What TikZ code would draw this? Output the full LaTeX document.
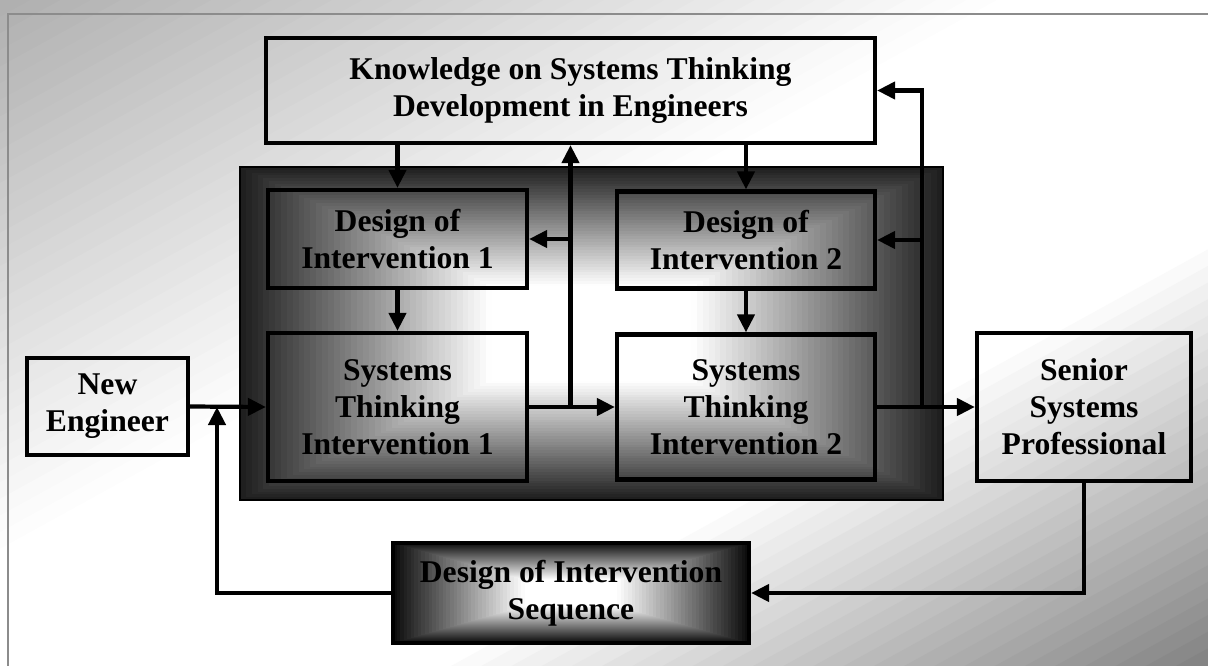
\documentclass[tikz,border=0pt]{standalone}
\usepackage{fontspec}
\setmainfont{Liberation Serif}
\usetikzlibrary{arrows.meta,positioning,calc}
\definecolor{framegray}{gray}{0.55}

\begin{document}
\begin{tikzpicture}[font=\fontsize{18}{21}\selectfont\bfseries,
  blk/.style={draw,line width=2.4pt,align=center,inner sep=0pt},
  flow/.style={line width=2.4pt,-{Triangle[length=3.6mm,width=3.4mm]}}]
\clip (0,0) rectangle (24.16,-13.3);
% page background: diagonal wash, light along the anti-diagonal
\foreach \i in {0,...,79}{
  \pgfmathsetmacro\ca{\i/40}
  \pgfmathsetmacro\cb{(\i+1.3)/40}
  \pgfmathsetmacro\g{min(1,0.69+0.38*\ca,1-0.77*(\ca-1.35))}
  \definecolor{wash}{gray}{\g}
  \fill[wash] ({(\ca+1)*24.16},13.3) -- ({(\cb+1)*24.16},13.3)
    -- ({(\cb-2)*24.16},-26.6) -- ({(\ca-2)*24.16},-26.6) -- cycle;
}
\draw[framegray,line width=1.2pt] (0.16,-13.6) |- (24.5,-0.28);
% dark panel behind the two interventions (rectangular glow)
\foreach \k in {0,...,59}{
  \pgfmathsetmacro\v{1-\k/60}
  \pgfmathsetmacro\g{min(1,0.12+1.25*(1-\v))}
  \definecolor{glow}{gray}{\g}
  \fill[glow] ({11.83-7.03*\v},{-6.67-3.33*\v}) rectangle ({11.83+7.03*\v},{-6.67+3.33*\v});
}
\draw[line width=1.5pt] (4.8,-3.34) rectangle (18.86,-10.0);
% same glow for the sequence box
\foreach \k in {0,...,49}{
  \pgfmathsetmacro\v{1-\k/50}
  \pgfmathsetmacro\g{min(1,0.05+1.3*(1-\v))}
  \definecolor{glow}{gray}{\g}
  \fill[glow] ({11.42-3.56*\v},{-11.86-1.0*\v}) rectangle ({11.42+3.56*\v},{-11.86+1.0*\v});
}
% boxes
\node[blk,minimum width=12.18cm,minimum height=2.1cm] (know) at (11.41,-1.81)
  {Knowledge on Systems Thinking\\Development in Engineers};
\node[blk,minimum width=5.18cm,minimum height=1.96cm] (d1) at (7.95,-4.78)
  {Design of\\Intervention 1};
\node[blk,minimum width=5.18cm,minimum height=2.96cm] (s1) at (7.95,-8.14)
  {Systems\\Thinking\\Intervention 1};
\node[blk,minimum width=5.16cm,minimum height=1.94cm] (d2) at (14.92,-4.8)
  {Design of\\Intervention 2};
\node[blk,minimum width=5.16cm,minimum height=2.9cm] (s2) at (14.92,-8.14)
  {Systems\\Thinking\\Intervention 2};
\node[blk,minimum width=3.22cm,minimum height=1.94cm] (ne) at (2.15,-8.13)
  {New\\Engineer};
\node[blk,minimum width=4.28cm,minimum height=2.96cm] (sr) at (21.68,-8.14)
  {Senior\\Systems\\Professional};
\node[blk,minimum width=7.12cm,minimum height=2.0cm] (seq) at (11.42,-11.86)
  {Design of Intervention\\Sequence};
% knowledge feeds the designs
\draw[flow] (know.south -| d1.north) -- (d1.north);
\draw[flow] (know.south -| d2.north) -- (d2.north);
\draw[flow] (d1.south) -- (s1.north);
\draw[flow] (d2.south) -- (s2.north);
% main line
\draw[flow] (ne.east) -- (s1.west);
\draw[flow] (s1.east) -- (s2.west);
\draw[flow] (s2.east) -- (sr.west);
% feedback after intervention 1
\draw[flow] (s1.east -| know.south) -- (know.south);
\draw[flow] (d1.east -| know.south) -- (d1.east);
% feedback after intervention 2
\coordinate (j2) at (18.44,-8.14);
\draw[flow] (j2) |- (know.east);
\draw[flow] (j2 |- d2.east) -- (d2.east);
% sequence loop
\coordinate (j0) at (4.34,-8.14);
\draw[flow] (sr.south) |- (seq.east);
\draw[flow] (seq.west) -| (j0);
\end{tikzpicture}
\end{document}
